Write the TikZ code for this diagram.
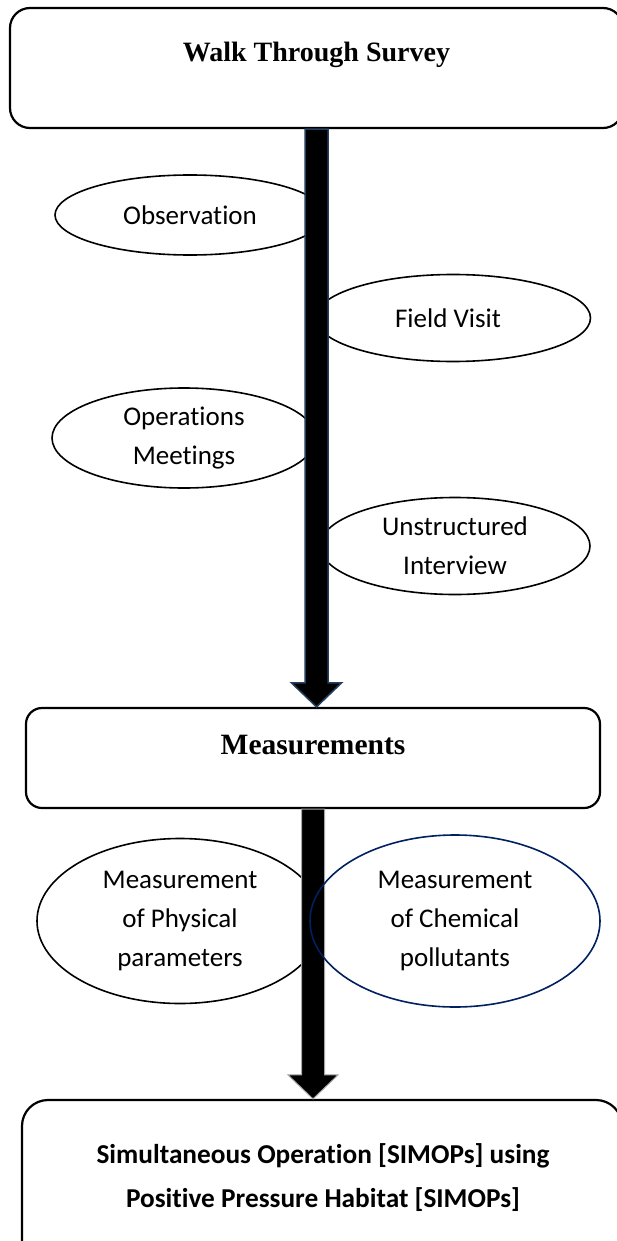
\documentclass[tikz,border=0pt]{standalone}
\usepackage{fontspec}
\setmainfont{Liberation Serif}
\newfontfamily\calibri[Ligatures={NoCommon}]{Carlito}
\usetikzlibrary{calc,shapes.geometric}

\definecolor{arrownavy}{HTML}{243F60}
\definecolor{ovalnavy}{HTML}{002060}

\tikzset{
  stagebox/.style={draw, line width=2.2pt, fill=white, inner sep=0pt},
  stagetext/.style={font=\bfseries\fontsize{28}{32}\selectfont},
  topic/.style={ellipse, draw, line width=1.6pt, align=center, inner sep=0pt,
    font=\calibri\fontsize{27}{39}\selectfont},
  blockarrow/.style={fill=black, draw=arrownavy, line width=1.5pt, line join=miter},
}

% block arrow from the south of #2 to the north of #3
\newcommand\blockarrow[3]{%
  \draw[blockarrow, #1] let \p1=(#2.south), \p2=(#3.north) in
    (\x1-11.5pt,\y1) -- (\x1-11.5pt,\y2+24pt) -- (\x1-25pt,\y2+24pt) -- (\x1,\y2)
    -- (\x1+25pt,\y2+24pt) -- (\x1+11.5pt,\y2+24pt) -- (\x1+11.5pt,\y1) -- cycle;}

\begin{document}
\begin{tikzpicture}[x=1pt, y=-1pt]
  \useasboundingbox (0,0) rectangle (617,1241);
  \clip (0,0) rectangle (617,1241);

  % survey ovals
  \node[topic, minimum width=270pt, minimum height=80pt] (obs) at (190,215) {Observation};
  \node[topic, minimum width=275pt, minimum height=87pt] (visit) at (453,318) {\hspace*{-10pt}Field Visit};
  \node[topic, minimum width=264pt, minimum height=100pt] (meet) at (184,438) {Operations\\Meetings};
  \node[topic, minimum width=270pt, minimum height=97pt] (inter) at (455,546) {Unstructured\\Interview};

  \node[stagebox, rounded corners=20pt, minimum width=613pt, minimum height=120pt] (walk) at (316.5,68) {};
  \node[stagetext] at (316.5,55) {Walk Through Survey};

  \node[stagebox, rounded corners=16pt, minimum width=574pt, minimum height=100pt] (meas) at (313,758) {};
  \node[stagetext, font=\bfseries\fontsize{29.5}{32}\selectfont] at (313,745) {Measurements};

  \node[stagebox, rounded corners=26pt, minimum width=600pt, minimum height=170pt] (simops) at (322,1185) {};
  \node[font=\calibri\bfseries\fontsize{27.3}{44}\selectfont, align=center] (simtext) at (323,1178)
    {Simultaneous Operation [SIMOPs] using\\Positive Pressure Habitat [SIMOPs]};

  \blockarrow{}{walk}{meas}

  % measurement ovals
  \node[topic, fill=white, minimum width=286pt, minimum height=165pt] (phys) at (180,921)
    {Measurement\\of Physical\\parameters};
  \blockarrow{draw=gray!70, line width=1pt}{meas}{simops}
  \node[topic, draw=ovalnavy, minimum width=290pt, minimum height=172pt] (chem) at (455,921)
    {Measurement\\of Chemical\\pollutants};
\end{tikzpicture}
\end{document}
